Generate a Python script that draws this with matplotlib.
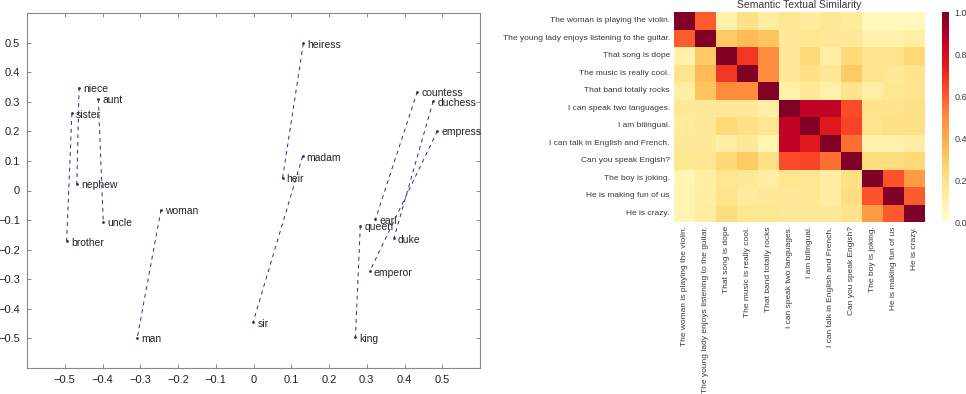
import matplotlib
matplotlib.use('Agg')
import matplotlib.pyplot as plt
from matplotlib.ticker import FuncFormatter
import seaborn as sns
import numpy as np

plt.rcParams['font.family'] = ['Liberation Sans', 'DejaVu Sans']

# --- left panel: 2-D projection of word vectors ---
words = ['niece', 'aunt', 'sister', 'nephew', 'uncle', 'brother', 'woman', 'man',
         'heiress', 'madam', 'heir', 'sir', 'countess', 'duchess', 'empress',
         'earl', 'queen', 'duke', 'emperor', 'king']
wx = [-0.462, -0.411, -0.481, -0.468, -0.398, -0.495, -0.245, -0.308,
      0.132, 0.130, 0.077, -0.001, 0.434, 0.476, 0.487,
      0.323, 0.283, 0.372, 0.308, 0.270]
wy = [0.348, 0.309, 0.261, 0.022, -0.105, -0.172, -0.065, -0.498,
      0.497, 0.115, 0.042, -0.445, 0.334, 0.302, 0.201,
      -0.097, -0.119, -0.162, -0.273, -0.496]
pairs = [('niece', 'nephew'), ('aunt', 'uncle'), ('sister', 'brother'), ('woman', 'man'),
         ('heiress', 'heir'), ('madam', 'sir'), ('countess', 'earl'),
         ('duchess', 'duke'), ('empress', 'emperor'), ('queen', 'king')]
axis_ticks = [-0.5, -0.4, -0.3, -0.2, -0.1, 0, 0.1, 0.2, 0.3, 0.4, 0.5]

# --- right panel: sentence similarity matrix ---
sentences = ['The woman is playing the violin.',
             'The young lady enjoys listening to the guitar.',
             'That song is dope',
             'The music is really cool.',
             'That band totally rocks',
             'I can speak two languages.',
             'I am bilingual.',
             'I can talk in English and French.',
             'Can you speak Engish?',
             'The boy is joking.',
             'He is making fun of us',
             'He is crazy.']
sim = np.array([
    [1.00, 0.60, 0.10, 0.20, 0.13, 0.16, 0.13, 0.16, 0.14, 0.05, 0.05, 0.05],
    [0.60, 1.00, 0.30, 0.35, 0.32, 0.15, 0.17, 0.15, 0.15, 0.10, 0.10, 0.12],
    [0.10, 0.30, 1.00, 0.68, 0.50, 0.15, 0.25, 0.12, 0.25, 0.18, 0.18, 0.25],
    [0.18, 0.35, 0.68, 1.00, 0.50, 0.15, 0.20, 0.15, 0.30, 0.18, 0.15, 0.18],
    [0.12, 0.32, 0.50, 0.50, 1.00, 0.10, 0.15, 0.10, 0.18, 0.12, 0.17, 0.18],
    [0.15, 0.15, 0.15, 0.15, 0.12, 1.00, 0.86, 0.86, 0.63, 0.18, 0.18, 0.20],
    [0.13, 0.15, 0.25, 0.20, 0.17, 0.86, 1.00, 0.76, 0.65, 0.18, 0.20, 0.20],
    [0.15, 0.15, 0.12, 0.15, 0.08, 0.86, 0.76, 1.00, 0.56, 0.10, 0.10, 0.12],
    [0.17, 0.17, 0.25, 0.30, 0.20, 0.63, 0.65, 0.56, 1.00, 0.22, 0.22, 0.25],
    [0.07, 0.12, 0.17, 0.15, 0.12, 0.17, 0.17, 0.12, 0.20, 1.00, 0.62, 0.45],
    [0.08, 0.12, 0.18, 0.14, 0.15, 0.15, 0.17, 0.12, 0.22, 0.62, 1.00, 0.60],
    [0.08, 0.13, 0.23, 0.17, 0.17, 0.15, 0.15, 0.15, 0.18, 0.45, 0.60, 1.00],
])

NAVY = '#2e2e78'
GREY = '#3a3a3a'

fig = plt.figure(figsize=(9.66, 3.94), dpi=100)
fig.patch.set_facecolor('white')

ax = fig.add_axes([27/966, 26/394, 453/966, 355/394])
idx = {w: i for i, w in enumerate(words)}
for a, b in pairs:
    ax.plot([wx[idx[a]], wx[idx[b]]], [wy[idx[a]], wy[idx[b]]],
            color=NAVY, lw=0.7, dashes=(4, 4))
ax.plot(wx, wy, '.', color=NAVY, ms=2)
for w, x, y in zip(words, wx, wy):
    ax.annotate(w, (x, y), xytext=(3, -1), textcoords='offset points',
                ha='left', va='center', fontsize=7.5, color='#222222')


def tick_fmt(v, p):
    v = round(v, 1)
    if v == 0:
        return '0'
    return ('%g' % v).replace('-', '\u2212')


ax.set_xlim(-0.6, 0.6)
ax.set_ylim(-0.6, 0.6)
ax.set_xticks(axis_ticks)
ax.set_yticks(axis_ticks)
ax.xaxis.set_major_formatter(FuncFormatter(tick_fmt))
ax.yaxis.set_major_formatter(FuncFormatter(tick_fmt))
ax.tick_params(direction='in', top=True, right=True, length=3, width=0.6,
               labelsize=8, colors='#777777', labelcolor='#222222', pad=5)
for s in ax.spines.values():
    s.set_color('#888888')
    s.set_linewidth(0.8)

# heatmap
hax = fig.add_axes([674/966, 172/394, 251/966, 210/394])
cax = fig.add_axes([942/966, 172/394, 7/966, 210/394])
sns.heatmap(sim, ax=hax, cbar_ax=cax, vmin=0, vmax=1, cmap='YlOrRd',
            xticklabels=sentences, yticklabels=sentences)
hax.set_title('Semantic Textual Similarity', fontsize=7.5, color=GREY, pad=3)
hax.tick_params(length=0, labelsize=6, labelcolor=GREY, pad=3)
hax.set_xticklabels(sentences, rotation=90)
hax.set_yticklabels(sentences, rotation=0)
cax.tick_params(length=0, labelsize=6.5, labelcolor=GREY, pad=4)
cax.set_yticks([0, 0.2, 0.4, 0.6, 0.8, 1.0])
cax.yaxis.set_major_formatter(FuncFormatter(lambda v, p: '%.1f' % v))
for s in cax.spines.values():
    s.set_visible(False)

fig.savefig('out.png', dpi=100, facecolor='white')
